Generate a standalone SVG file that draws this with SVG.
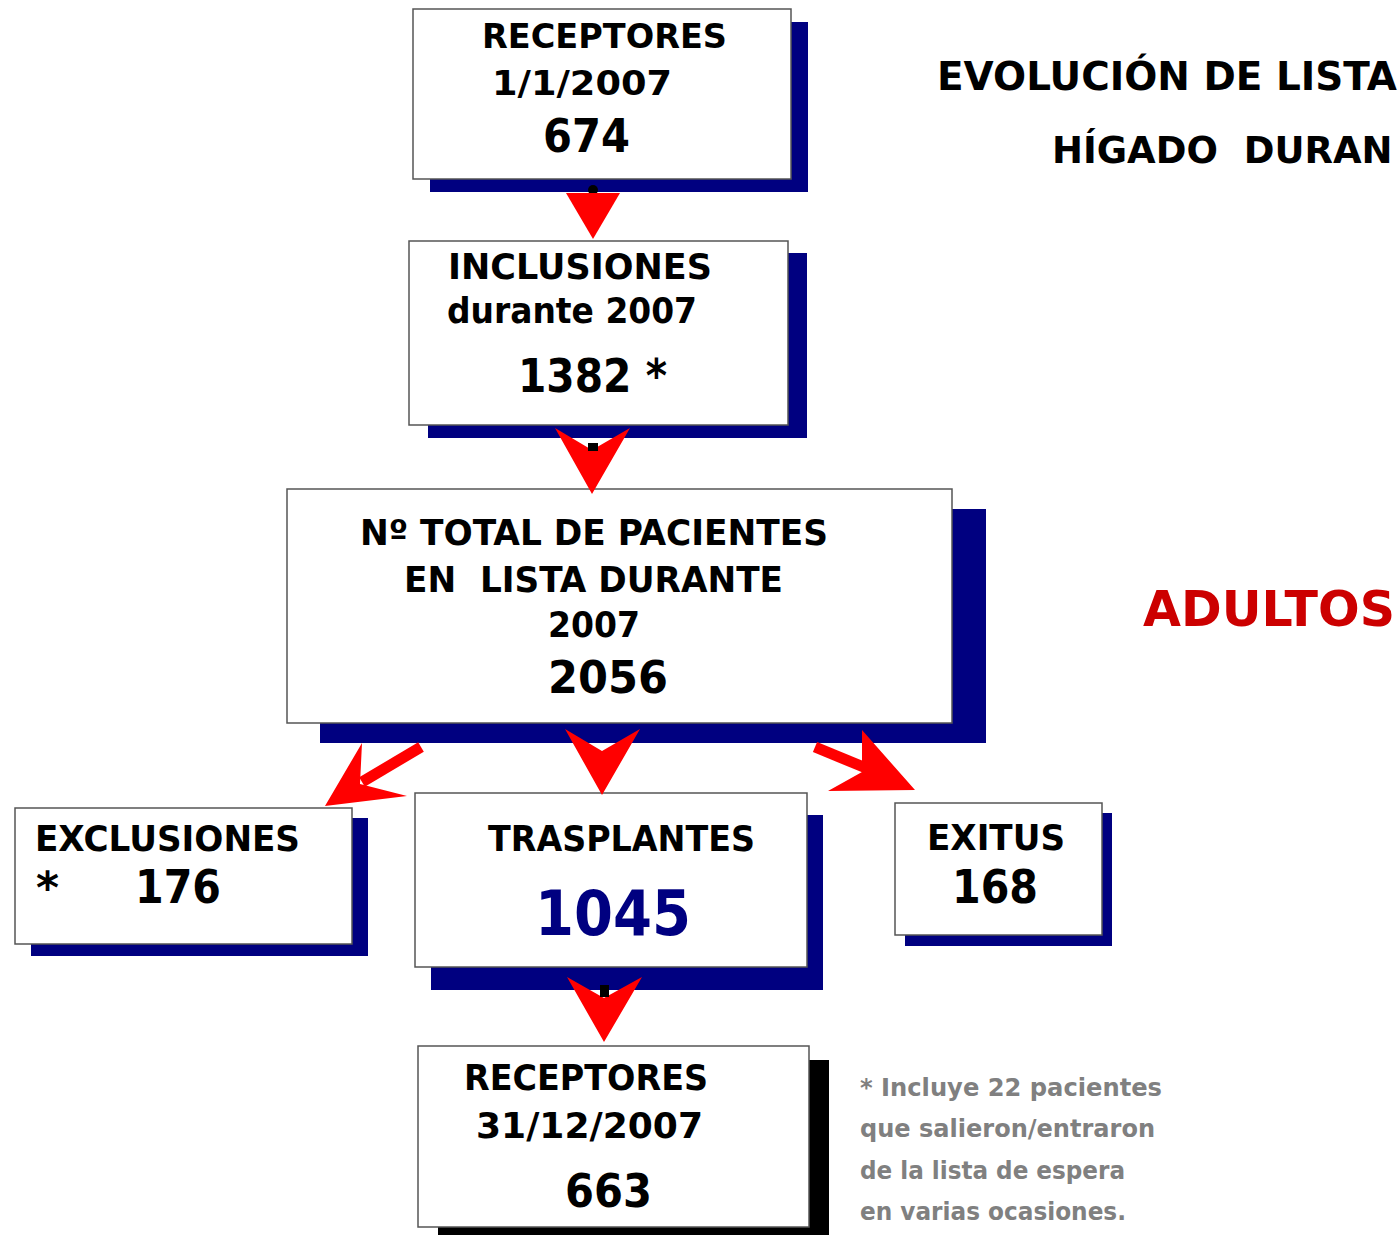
<svg xmlns="http://www.w3.org/2000/svg" width="1400" height="1235" viewBox="0 0 1400 1235">
<style>
.box{fill:#ffffff;stroke:#555555;stroke-width:1.5}
.sh{fill:#000080}
.shk{fill:#000000}
.t{font-family:"DejaVu Sans","Liberation Sans",sans-serif;font-weight:bold;fill:#000000}
.c{font-family:"DejaVu Sans Condensed","DejaVu Sans","Liberation Sans",sans-serif;font-weight:bold;fill:#000000}
.arr{fill:#ff0000}
.shaft{stroke:#ff0000;stroke-width:11;fill:none}
.note{font-family:"DejaVu Sans","Liberation Sans",sans-serif;font-weight:bold;fill:#808080;font-size:24px}
</style>
<rect width="1400" height="1235" fill="#ffffff"/>

<g id="title">
<text class="t" x="937" y="90" font-size="39" textLength="460" lengthAdjust="spacingAndGlyphs">EVOLUCIÓN DE LISTA</text>
<text class="t" x="1052" y="163" font-size="37" xml:space="preserve">HÍGADO  DURAN</text>
</g>
<g id="adultos">
<text x="1143" y="626" font-family="DejaVu Sans, Liberation Sans, sans-serif" font-weight="bold" font-size="50" fill="#cc0000" textLength="252" lengthAdjust="spacingAndGlyphs">ADULTOS</text>
</g>

<g id="n1">
<rect class="sh" x="430" y="22" width="378" height="170"/>
<rect class="box" x="413" y="9" width="378" height="170"/>
<text class="t" x="482" y="48" font-size="33" textLength="245" lengthAdjust="spacingAndGlyphs">RECEPTORES</text>
<text class="t" x="492" y="95" font-size="33" textLength="180" lengthAdjust="spacingAndGlyphs">1/1/2007</text>
<text class="t" x="543" y="152" font-size="47" textLength="87" lengthAdjust="spacingAndGlyphs">674</text>
</g>

<g id="n2">
<rect class="sh" x="428" y="253" width="379" height="185"/>
<rect class="box" x="409" y="241" width="379" height="184"/>
<text class="t" x="448" y="279" font-size="35" textLength="264" lengthAdjust="spacingAndGlyphs">INCLUSIONES</text>
<text class="t" x="447" y="323" font-size="35" textLength="250" lengthAdjust="spacingAndGlyphs">durante 2007</text>
<text class="t" x="518" y="392" font-size="47" textLength="149" lengthAdjust="spacingAndGlyphs" xml:space="preserve">1382 *</text>
</g>

<g id="n3">
<rect class="sh" x="320" y="509" width="666" height="234"/>
<rect class="box" x="287" y="489" width="665" height="234"/>
<text class="c" x="360" y="545" font-size="35" textLength="468" lengthAdjust="spacingAndGlyphs">Nº TOTAL DE PACIENTES</text>
<text class="c" x="404" y="592" font-size="35" textLength="379" lengthAdjust="spacingAndGlyphs" xml:space="preserve">EN  LISTA DURANTE</text>
<text class="c" x="548" y="637" font-size="35" textLength="92" lengthAdjust="spacingAndGlyphs">2007</text>
<text class="c" x="548" y="693" font-size="45" textLength="120" lengthAdjust="spacingAndGlyphs">2056</text>
</g>

<g id="n4">
<rect class="sh" x="31" y="818" width="337" height="138"/>
<rect class="box" x="15" y="808" width="337" height="136"/>
<text class="t" x="35" y="851" font-size="35" textLength="265" lengthAdjust="spacingAndGlyphs">EXCLUSIONES</text>
<text class="t" x="36" y="903" font-size="44">*</text>
<text class="t" x="135" y="903" font-size="47" textLength="86" lengthAdjust="spacingAndGlyphs">176</text>
</g>

<g id="n5">
<rect class="sh" x="431" y="815" width="392" height="175"/>
<rect class="box" x="415" y="793" width="392" height="174"/>
<text class="t" x="488" y="851" font-size="35" textLength="267" lengthAdjust="spacingAndGlyphs">TRASPLANTES</text>
<text class="t" x="535" y="935" font-size="62" style="fill:#000080" textLength="156" lengthAdjust="spacingAndGlyphs">1045</text>
</g>

<g id="n6">
<rect class="sh" x="905" y="813" width="207" height="133"/>
<rect class="box" x="895" y="803" width="207" height="132"/>
<text class="t" x="927" y="850" font-size="35" textLength="138" lengthAdjust="spacingAndGlyphs">EXITUS</text>
<text class="t" x="952" y="903" font-size="47" textLength="86" lengthAdjust="spacingAndGlyphs">168</text>
</g>

<g id="n7">
<rect class="shk" x="438" y="1060" width="391" height="175"/>
<rect class="box" x="418" y="1046" width="391" height="181"/>
<text class="t" x="464" y="1090" font-size="35" textLength="244" lengthAdjust="spacingAndGlyphs">RECEPTORES</text>
<text class="t" x="476" y="1138" font-size="35" textLength="227" lengthAdjust="spacingAndGlyphs">31/12/2007</text>
<text class="t" x="565" y="1207" font-size="47" textLength="87" lengthAdjust="spacingAndGlyphs">663</text>
</g>

<g id="connectors">
<circle cx="593" cy="190" r="5" fill="#000"/>
<polygon class="arr" points="566,193 620,193 593,239"/>
<polygon class="arr" points="555,428 592,450 630,428 592,494"/>
<rect x="588" y="443" width="10" height="8" fill="#000"/>
<polygon class="arr" points="565,729 602,751 640,729 602,795"/>
<line class="shaft" x1="421" y1="747" x2="362" y2="782"/>
<polygon class="arr" points="362,743 325,806 407,796 360,784"/>
<line class="shaft" x1="815" y1="747" x2="866" y2="768"/>
<polygon class="arr" points="862,730 915,790 828,791 862,772"/>
<polygon class="arr" points="567,977 604,998 642,977 604,1042"/>
<rect x="600" y="985" width="9" height="12" fill="#000"/>
</g>

<g id="note">
<text class="note" x="860" y="1096" textLength="302" lengthAdjust="spacingAndGlyphs">* Incluye 22 pacientes</text>
<text class="note" x="860" y="1137" textLength="295" lengthAdjust="spacingAndGlyphs">que salieron/entraron</text>
<text class="note" x="860" y="1179" textLength="265" lengthAdjust="spacingAndGlyphs">de la lista de espera</text>
<text class="note" x="860" y="1220" textLength="266" lengthAdjust="spacingAndGlyphs">en varias ocasiones.</text>
</g>
</svg>
